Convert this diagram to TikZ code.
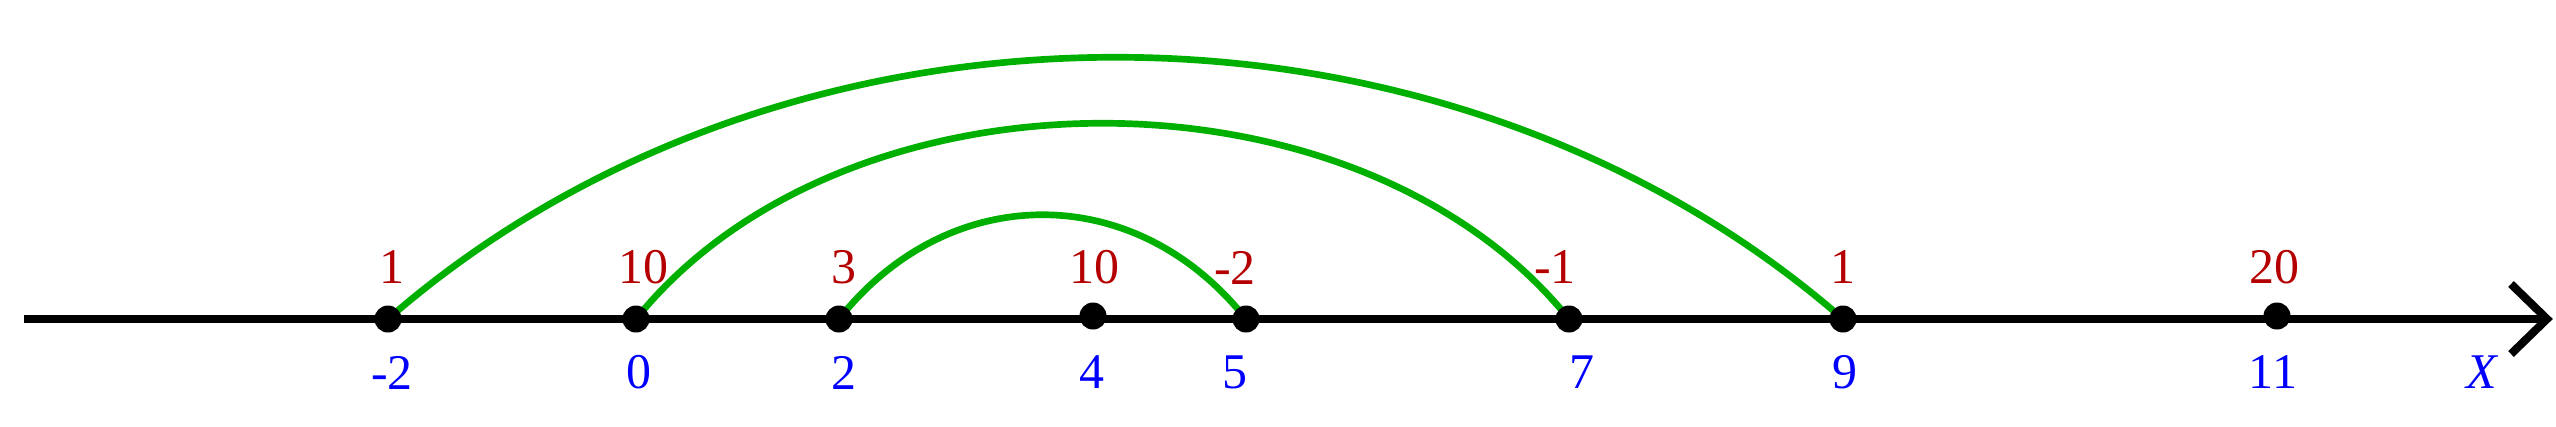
\documentclass[tikz,border=0pt]{standalone}
\usepackage{fontspec}
\setmainfont{Liberation Serif}
\definecolor{lblred}{RGB}{180,0,0}
\definecolor{lblblue}{RGB}{0,0,255}
\definecolor{arcgreen}{RGB}{0,176,0}
\begin{document}
\begin{tikzpicture}[x=0.01cm,y=0.01cm,
  font=\fontsize{14.2pt}{17pt}\selectfont,
  dotnode/.style={circle,fill=black,inner sep=0pt,minimum size=0.27cm},
  vallbl/.style={text=lblred,inner sep=0pt},
  poslbl/.style={text=lblblue,inner sep=0pt},
  axisline/.style={line width=2.3pt},
  jump/.style={arcgreen,line width=1.9pt}]
\useasboundingbox (0,0) rectangle (2556,426);
% positions
\coordinate (start) at (24,107);
\coordinate (tip) at (2547,107);
\coordinate (pm2) at (388,107);
\coordinate (p0) at (636,107);
\coordinate (p2) at (839,107);
\coordinate (p4) at (1093,110);
\coordinate (p5) at (1246,107);
\coordinate (p7) at (1569,107);
\coordinate (p9) at (1843,107);
\coordinate (p11) at (2277,110);
% axis
\draw[axisline] (start) -- (tip);
\draw[axisline,line join=miter] (tip) ++(-36,35) -- (tip) -- ++(-36,-35);
% arcs
\draw[jump] (pm2) .. controls +(400,349) and +(-400,349) .. (p9);
\draw[jump] (p0) .. controls +(210,261) and +(-210,261) .. (p7);
\draw[jump] (p2) .. controls +(110,139) and +(-110,139) .. (p5);
% dots
\node[dotnode] (dm2) at (pm2) {};
\node[dotnode] (d0) at (p0) {};
\node[dotnode] (d2) at (p2) {};
\node[dotnode] (d4) at (p4) {};
\node[dotnode] (d5) at (p5) {};
\node[dotnode] (d7) at (p7) {};
\node[dotnode] (d9) at (p9) {};
\node[dotnode] (d11) at (p11) {};
% values (red)
\node[vallbl] (vm2) at (392,158.5) {1};
\node[vallbl] (v0) at (643.5,158.5) {10};
\node[vallbl] (v2) at (843.5,158.5) {3};
\node[vallbl] (v4) at (1094,158.5) {10};
\node[vallbl] (v5) at (1235,158.5) {-2};
\node[vallbl] (v7) at (1555,158.5) {-1};
\node[vallbl] (v9) at (1843,158.5) {1};
\node[vallbl] (v11) at (2274.5,158.5) {20};
% positions (blue)
\node[poslbl] (lm2) at (392,53.5) {-2};
\node[poslbl] (l0) at (639,53.5) {0};
\node[poslbl] (l2) at (844,53.5) {2};
\node[poslbl] (l4) at (1092,53.5) {4};
\node[poslbl] (l5) at (1235,53.5) {5};
\node[poslbl] (l7) at (1582,53.5) {7};
\node[poslbl] (l9) at (1845,53.5) {9};
\node[poslbl] (l11) at (2273,53.5) {11};
\node[poslbl] (lx) at (2482,53.5) {\itshape X};
\end{tikzpicture}
\end{document}
